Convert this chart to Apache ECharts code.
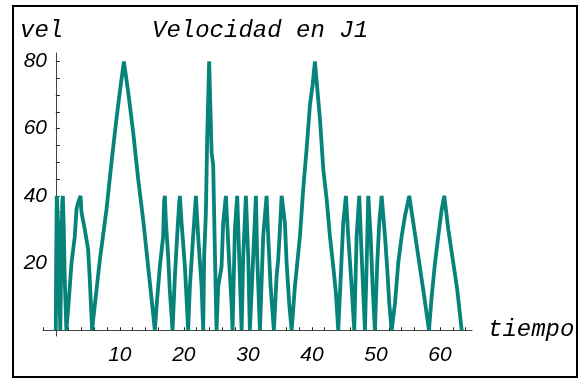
<!DOCTYPE html>
<html>
<head>
<meta charset="utf-8">
<script src="https://cdn.jsdelivr.net/npm/echarts@6/dist/echarts.min.js"></script>
<style>
  html, body { margin: 0; padding: 0; background: #fff; }
  #main { width: 581px; height: 379px; }
</style>
</head>
<body>
<div id="main"></div>
<script>
// tiempo / vel, point by point
var tiempo = [
  0, 0.05, 0.15, 0.4, 0.5, 0.7, 0.85, 1.0, 1.1, 1.25, 1.4, 1.65,
  1.92, 2.45, 2.97, 3.23, 3.48, 3.86, 4.02, 4.53, 5.05, 5.31, 5.67,
  5.83, 6.88, 7.92, 8.7, 9.48, 10.0, 10.63, 11.3, 12.08, 12.86, 13.64, 14.42, 15.47,
  15.73, 16.25, 16.77, 16.9, 17.03, 17.2, 17.55, 17.8, 18.23,
  18.6, 18.95, 19.27, 19.38, 19.64, 20.16, 20.67,
  20.94, 21.45, 21.88, 22.23, 22.77, 23.02,
  23.17, 23.44, 23.64, 23.95, 24.17, 24.33, 24.58, 24.84, 25.1,
  25.36, 25.89, 26.14, 26.56, 26.77, 27.08, 27.45, 27.6,
  27.97, 28.33, 28.64, 29.02,
  29.27, 29.69, 30.05, 30.31,
  30.83, 31.25, 31.45, 31.88,
  32.39, 32.92, 33.17, 33.55, 34.06,
  34.48, 34.73, 35.0, 35.27, 35.78, 36.05, 36.45, 36.83,
  37.34, 38.13, 38.64, 39.17, 39.69, 40.11, 40.47,
  40.83, 41.25, 41.77, 42.3, 42.81, 43.33, 43.75, 44.11,
  44.38, 44.89, 45.31, 45.67, 46.2, 46.61,
  46.98, 47.39, 47.77, 48.28,
  48.55, 48.8, 49.17, 49.48, 49.84,
  50.2, 50.52, 50.89, 51.41, 51.77, 52.08, 52.45,
  52.97, 53.48, 54.02, 54.53, 55.2,
  55.83, 56.61, 57.39, 58.28,
  58.7, 59.22, 59.73, 60.27, 60.67,
  61.3, 62.08, 62.7, 63.39
];
var vel = [
  0, 20, 40, 30, 15, 0, 20, 38, 40, 30, 15, 0,
  6, 20, 28, 36, 38, 40, 35, 30, 24, 15, 0,
  3, 21, 36, 50, 63, 71, 80, 71, 59, 45, 33, 19, 0,
  7, 19, 28, 38, 40, 32, 22, 12, 0,
  16, 28, 38, 40, 32, 19, 0,
  13, 28, 40, 28, 13, 0,
  22, 35, 57, 80, 80, 53, 49, 24, 0,
  13, 19, 32, 40, 32, 20, 8, 0,
  30, 40, 22, 0,
  22, 40, 22, 0,
  22, 40, 22, 0,
  28, 40, 28, 13, 0,
  16, 21, 30, 40, 32, 20, 8, 0,
  13, 28, 42, 54, 67, 73, 80,
  72, 63, 48, 39, 28, 19, 11, 0,
  11, 32, 40, 28, 13, 0,
  28, 40, 22, 0,
  20, 40, 28, 13, 0,
  20, 32, 40, 28, 18, 8, 0,
  8, 20, 28, 34, 40,
  32, 22, 12, 0,
  10, 20, 28, 36, 40,
  30, 20, 12, 0
];
var xTickLabels = [10, 20, 30, 40, 50, 60];
var yTickLabels = [20, 40, 60, 80];

var xTicks = [];
for (var p = -2; p <= 64; p += 2) { if (p !== 0) xTicks.push(p); }
var yTicks = [];
for (var q = 5; q <= 80; q += 5) { yTicks.push(q); }

var datos = [];
for (var i = 0; i < tiempo.length; i++) {
  datos.push([tiempo[i], vel[i]]);
}

var myChart = echarts.init(document.getElementById('main'));

var labelFont = { color: '#000', fontFamily: 'Liberation Sans', fontStyle: 'italic', fontSize: 21 };
var monoFont = '24px "Liberation Mono"';

var option = {
  animation: false,
  grid: { left: 43, right: 109, top: 53, bottom: 43, containLabel: false },
  xAxis: {
    type: 'value',
    min: -2,
    max: 65,
    axisLine: { onZero: true, lineStyle: { color: '#444', width: 1 } },
    axisTick: { inside: true, length: 3, customValues: xTicks, lineStyle: { color: '#222' } },
    axisLabel: Object.assign({ customValues: xTickLabels, margin: 9 }, labelFont),
    splitLine: { show: false }
  },
  yAxis: {
    type: 'value',
    min: -1.7,
    max: 82.5,
    axisLine: { onZero: true, lineStyle: { color: '#444', width: 1 } },
    axisTick: { inside: true, length: 4, customValues: yTicks, lineStyle: { color: '#222' } },
    axisLabel: Object.assign({ customValues: yTickLabels, margin: -4 }, labelFont),
    splitLine: { show: false }
  },
  series: [{
    type: 'line',
    data: datos,
    showSymbol: false,
    lineStyle: { color: '#07847a', width: 3.8 },
    itemStyle: { color: '#07847a' }
  }],
  graphic: [
    { type: 'rect', shape: { x: 13, y: 6, width: 564, height: 371 },
      style: { fill: 'none', stroke: '#000', lineWidth: 2 }, silent: true },
    { type: 'text', left: 20, top: 19,
      style: { text: 'vel', font: 'italic ' + monoFont, fill: '#000' } },
    { type: 'text', left: 152, top: 19,
      style: { text: 'Velocidad en J1', font: 'italic ' + monoFont, fill: '#000' } },
    { type: 'text', left: 488, top: 318,
      style: { text: 'tiempo', font: 'italic ' + monoFont, fill: '#000' } }
  ]
};

myChart.setOption(option);
</script>
</body>
</html>
